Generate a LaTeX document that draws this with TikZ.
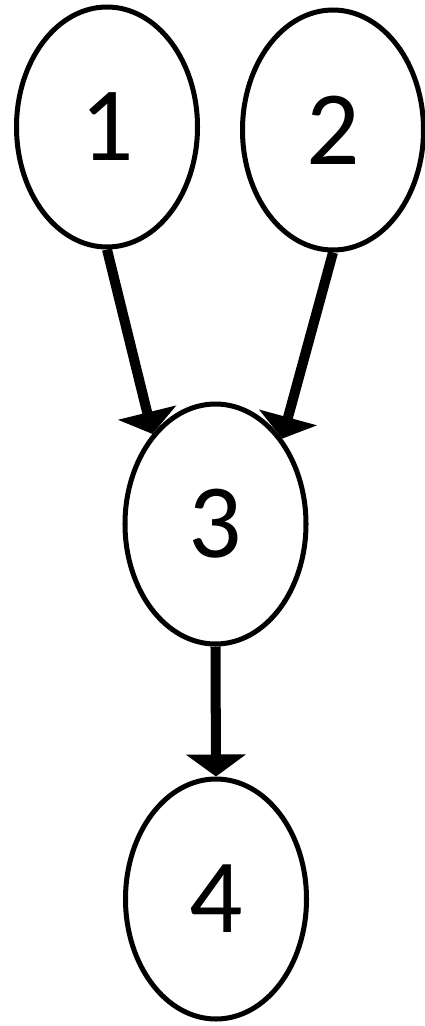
\documentclass[tikz,border=0pt]{standalone}
\usepackage{fontspec}
\setmainfont{Carlito}
\usepackage{tikz}
\usetikzlibrary{arrows.meta,shapes.geometric}

\begin{document}
\begin{tikzpicture}[
  font=\fontsize{60}{72}\selectfont,
  vert/.style={draw, ellipse, line width=2.85pt, inner sep=0pt,
    minimum width=3.62cm, minimum height=4.8cm},
  edge/.style={line width=5.7pt, -{Triangle[length=0.44cm, width=1.18cm]}}
]
  \useasboundingbox (0,0) rectangle (8.48,-20.52);
  \node[vert] (v1) at (2.14,-2.54) {1};
  \node[vert] (v2) at (6.66,-2.60) {2};
  \node[vert] (v3) at (4.31,-10.48) {3};
  \node[vert] (v4) at (4.32,-17.98) {4};
  \draw[edge] (v1.south) -- (v3.125);
  \draw[edge] (v2.south) -- (v3.52);
  \draw[edge] (v3.south) -- (v4.north);
\end{tikzpicture}
\end{document}
